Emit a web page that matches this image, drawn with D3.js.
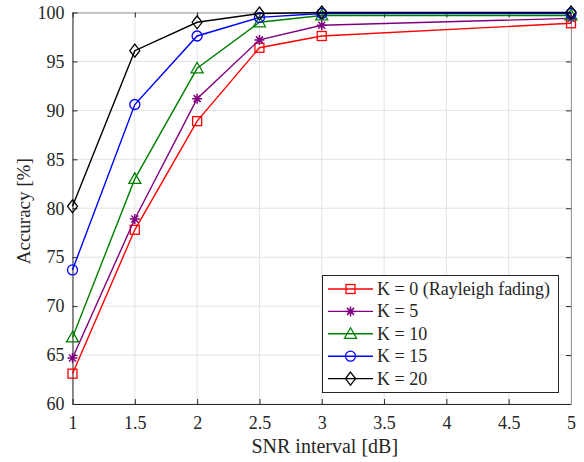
<!DOCTYPE html>
<html>
<head>
<meta charset="utf-8">
<script src="https://cdn.jsdelivr.net/npm/d3@7"></script>
<style>
  body { margin: 0; background: #fff; }
  svg text { font-family: "Liberation Serif", "Times New Roman", serif; fill: #262626; }
</style>
</head>
<body>
<svg class="main" width="584" height="462"></svg>
<script>
var SNR = [1, 1.5, 2, 2.5, 3, 5];
var K0 = [63.1, 77.8, 88.9, 96.4, 97.6, 98.9];
var K5 = [64.7, 78.9, 91.2, 97.2, 98.7, 99.4];
var K10 = [66.8, 83.0, 94.3, 99.0, 99.7, 99.7];
var K15 = [73.7, 90.6, 97.6, 99.5, 99.9, 99.9];
var K20 = [80.2, 96.1, 99.0, 99.9, 100, 100];
var LABELS = ["K = 0 (Rayleigh fading)", "K = 5", "K = 10", "K = 15", "K = 20"];
var COLORS = ["#ff0000", "#800080", "#008000", "#0000ff", "#000000"];
var MARKERS = ["square", "star", "triangle", "circle", "diamond"];
var X_TICKS = [1, 1.5, 2, 2.5, 3, 3.5, 4, 4.5, 5];
var Y_TICKS = [60, 65, 70, 75, 80, 85, 90, 95, 100];

var SERIES = [K0, K5, K10, K15, K20];

var plotL = 72.5, plotR = 571, plotT = 12.5, plotB = 404;
var svg = d3.select("svg.main");

var x = d3.scaleLinear().domain([1, 5]).range([plotL, plotR]);
var y = d3.scaleLinear().domain([60, 100]).range([plotB, plotT]);

// grid
svg.append("g").selectAll("line")
  .data(X_TICKS).enter().append("line")
  .attr("x1", function(d) { return x(d); }).attr("x2", function(d) { return x(d); })
  .attr("y1", plotT).attr("y2", plotB)
  .attr("stroke", "#e3e3e3").attr("stroke-width", 1);
svg.append("g").selectAll("line")
  .data(Y_TICKS).enter().append("line")
  .attr("y1", function(d) { return y(d); }).attr("y2", function(d) { return y(d); })
  .attr("x1", plotL).attr("x2", plotR)
  .attr("stroke", "#e3e3e3").attr("stroke-width", 1);

// axes
var axisColor = "#262626";
var xAxis = svg.append("g").attr("transform", "translate(0," + plotB + ")")
  .call(d3.axisBottom(x).tickValues(X_TICKS).tickSizeInner(-5).tickSizeOuter(0).tickPadding(12)
    .tickFormat(function(d) { return d; }));
var xTop = svg.append("g").attr("transform", "translate(0," + plotT + ")")
  .call(d3.axisTop(x).tickValues(X_TICKS).tickSizeInner(-5).tickSizeOuter(0).tickFormat(""));
var yAxis = svg.append("g").attr("transform", "translate(" + plotL + ",0)")
  .call(d3.axisLeft(y).tickValues(Y_TICKS).tickSizeInner(-5).tickSizeOuter(0).tickPadding(8));
var yRight = svg.append("g").attr("transform", "translate(" + plotR + ",0)")
  .call(d3.axisRight(y).tickValues(Y_TICKS).tickSizeInner(-5).tickSizeOuter(0).tickFormat(""));

[xAxis, xTop, yAxis, yRight].forEach(function(g) {
  g.selectAll("path.domain").attr("stroke", axisColor).attr("stroke-width", 1);
  g.selectAll(".tick line").attr("stroke", axisColor);
  g.selectAll("text").attr("font-size", 18).attr("fill", axisColor)
    .attr("font-family", "Liberation Serif, serif");
});
xTop.selectAll("path.domain").attr("stroke", "#999");
yRight.selectAll("path.domain").attr("stroke", "#999");

// labels
svg.append("text").attr("x", (plotL + plotR) / 2 + 3).attr("y", 453)
  .attr("text-anchor", "middle").attr("font-size", 20).text("SNR interval [dB]");
svg.append("text").attr("transform", "translate(30," + ((plotT + plotB) / 2 + 3) + ") rotate(-90)")
  .attr("text-anchor", "middle").attr("font-size", 19).text("Accuracy [%]");

function drawMarker(g, type, cx, cy, color) {
  if (type == "square") {
    g.append("rect").attr("x", cx - 4.5).attr("y", cy - 4.5).attr("width", 9).attr("height", 9)
      .attr("fill", "none").attr("stroke", color).attr("stroke-width", 1.3);
  } else if (type == "circle") {
    g.append("circle").attr("cx", cx).attr("cy", cy).attr("r", 5)
      .attr("fill", "none").attr("stroke", color).attr("stroke-width", 1.3);
  } else if (type == "triangle") {
    g.append("path").attr("d", "M" + cx + "," + (cy - 6) + "L" + (cx + 6) + "," + (cy + 4.5) + "L" + (cx - 6) + "," + (cy + 4.5) + "Z")
      .attr("fill", "none").attr("stroke", color).attr("stroke-width", 1.3);
  } else if (type == "diamond") {
    g.append("path").attr("d", "M" + cx + "," + (cy - 6.5) + "L" + (cx + 5) + "," + cy + "L" + cx + "," + (cy + 6.5) + "L" + (cx - 5) + "," + cy + "Z")
      .attr("fill", "none").attr("stroke", color).attr("stroke-width", 1.3);
  } else if (type == "star") {
    var r = 5;
    var p = "M" + (cx - r) + "," + cy + "L" + (cx + r) + "," + cy +
      "M" + cx + "," + (cy - r) + "L" + cx + "," + (cy + r) +
      "M" + (cx - r * 0.7) + "," + (cy - r * 0.7) + "L" + (cx + r * 0.7) + "," + (cy + r * 0.7) +
      "M" + (cx - r * 0.7) + "," + (cy + r * 0.7) + "L" + (cx + r * 0.7) + "," + (cy - r * 0.7);
    g.append("path").attr("d", p).attr("fill", "none").attr("stroke", color).attr("stroke-width", 1.5);
  }
}

var line = d3.line()
  .x(function(d, i) { return x(SNR[i]); })
  .y(function(d) { return y(d); });

SERIES.forEach(function(vals, s) {
  var g = svg.append("g");
  g.append("path").datum(vals).attr("d", line)
    .attr("fill", "none").attr("stroke", COLORS[s]).attr("stroke-width", 1.4);
  vals.forEach(function(v, i) {
    drawMarker(g, MARKERS[s], x(SNR[i]), y(v), COLORS[s]);
  });
});

// legend
var lg = svg.append("g");
lg.append("rect").attr("x", 322.5).attr("y", 275.5).attr("width", 236).attr("height", 117)
  .attr("fill", "#fff").attr("stroke", axisColor).attr("stroke-width", 1);
LABELS.forEach(function(label, i) {
  var ly = 289 + i * 22.4;
  lg.append("line").attr("x1", 328).attr("x2", 373).attr("y1", ly).attr("y2", ly)
    .attr("stroke", COLORS[i]).attr("stroke-width", 1.4);
  drawMarker(lg, MARKERS[i], 350.5, ly, COLORS[i]);
  lg.append("text").attr("x", 377).attr("y", ly + 6).attr("font-size", 18).text(label);
});
</script>
</body>
</html>
